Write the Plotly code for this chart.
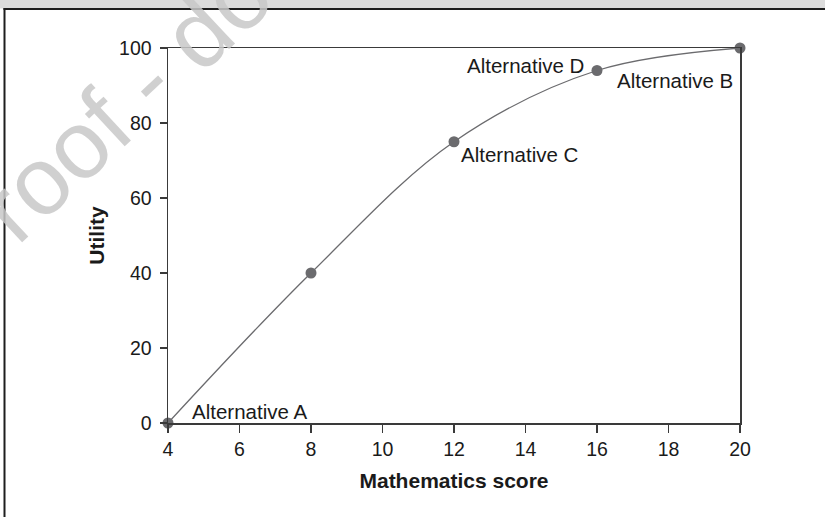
import plotly.graph_objects as go

# ---- data ----
scores = [4, 8, 12, 16, 20]
utility = [0, 40, 75, 94, 100]
labels = ["Alternative A", "", "Alternative C", "Alternative D", "Alternative B"]
x_ticks = [4, 6, 8, 10, 12, 14, 16, 18, 20]
y_ticks = [0, 20, 40, 60, 80, 100]

W, H = 825, 517
L, R, T, B = 168, 85, 48, 94
PW, PH = W - L - R, H - T - B

def px2x(px):
    return (px - L) / PW

def py2y(py):
    return (H - B - py) / PH

FONT = "Liberation Sans, Arial, Helvetica, sans-serif"
GREY = "#6b6b6e"
AX = "#3a3a3a"

fig = go.Figure()
fig.add_trace(go.Scatter(
    x=scores, y=utility, mode="lines+markers",
    line=dict(color=GREY, width=1.3, shape="spline", smoothing=1.0),
    marker=dict(color=GREY, size=11),
    cliponaxis=False, showlegend=False, hoverinfo="skip",
))

ann_style = {
    "Alternative A": dict(xanchor="left", xshift=22, yshift=12),
    "Alternative C": dict(xanchor="left", xshift=5, yshift=-13),
    "Alternative D": dict(xanchor="right", xshift=-11, yshift=5),
    "Alternative B": dict(xanchor="right", xshift=-5, yshift=-32),
}
for xv, yv, lab in zip(scores, utility, labels):
    if not lab:
        continue
    st = ann_style[lab]
    fig.add_annotation(x=xv, y=yv, text=lab, showarrow=False,
                       yanchor="middle", font=dict(size=20.5, color="#1a1a1a", family=FONT),
                       **st)

# watermark
fig.add_annotation(xref="paper", yref="paper", x=px2x(244), y=py2y(-10),
                   text="Proof - do not copy", showarrow=False, textangle=-43,
                   xanchor="center", yanchor="middle",
                   font=dict(size=96, color="rgba(200,200,200,0.85)", family=FONT))

shapes = [
    dict(type="rect", xref="paper", yref="paper", x0=px2x(0), x1=px2x(W), y0=py2y(0), y1=py2y(8.5),
         fillcolor="#dcdcdc", line=dict(width=0), layer="above"),
    dict(type="line", xref="paper", yref="paper", x0=px2x(3.5), x1=px2x(W), y0=py2y(9), y1=py2y(9),
         line=dict(color="#1e1e1e", width=2)),
    dict(type="line", xref="paper", yref="paper", x0=px2x(4.5), x1=px2x(4.5), y0=py2y(8), y1=py2y(H),
         line=dict(color="#1e1e1e", width=2)),
]

fig.update_layout(
    width=W, height=H,
    margin=dict(l=L, r=R, t=T, b=B, pad=0),
    paper_bgcolor="white", plot_bgcolor="white",
    font=dict(family=FONT, color="#1a1a1a"),
    shapes=shapes,
    xaxis=dict(
        range=[4, 20], tickvals=x_ticks, ticktext=[str(v) for v in x_ticks],
        showgrid=False, zeroline=False, showline=True, mirror=True,
        linecolor=AX, linewidth=1.5, ticks="outside", ticklen=8, tickwidth=1.5, tickcolor=AX,
        tickfont=dict(size=19.5, family=FONT, color="#1a1a1a"),
        title=dict(text="<b>Mathematics score</b>", font=dict(size=21, family=FONT, color="#1a1a1a"), standoff=14),
    ),
    yaxis=dict(
        range=[0, 100], tickvals=y_ticks, ticktext=[str(v) for v in y_ticks],
        showgrid=False, zeroline=False, showline=True, mirror=True,
        linecolor=AX, linewidth=1.5, ticks="outside", ticklen=7, tickwidth=1.5, tickcolor=AX,
        ticklabelstandoff=4,
        tickfont=dict(size=19.5, family=FONT, color="#1a1a1a"),
        title=dict(text="<b>Utility</b>", font=dict(size=21, family=FONT, color="#1a1a1a"), standoff=8),
    ),
)

fig.write_html("out.html",
               config={"displayModeBar": False, "staticPlot": True},
               post_script="document.body.style.margin='0';document.body.style.overflow='hidden';")
